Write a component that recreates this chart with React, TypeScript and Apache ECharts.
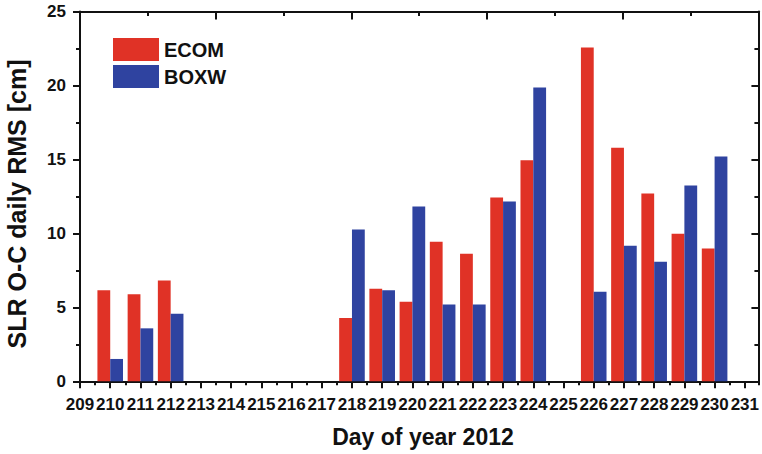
import React, { useEffect, useRef } from "react";
import * as echarts from "echarts";

const days = [210, 211, 212, 218, 219, 220, 221, 222, 223, 224, 226, 227, 228, 229, 230];
const ecom = [6.15, 5.88, 6.82, 4.28, 6.26, 5.38, 9.44, 8.63, 12.43, 14.95, 22.57, 15.79, 12.7, 9.98, 8.97];
const boxw = [1.51, 3.58, 4.57, 10.27, 6.15, 11.82, 5.2, 5.2, 12.16, 19.86, 6.06, 9.17, 8.09, 13.24, 15.2];
const seriesNames = ["ECOM", "BOXW"];
const xMin = 209;
const xMax = 231.45;
const yMin = 0;
const yMax = 25;
const yTitle = "SLR O-C daily RMS [cm]";
const xTitle = "Day of year 2012";

const RED = "#E03226";
const BLUE = "#2F43A0";
const INK = "#111111";
const FONT = "'Liberation Sans', Arial, Helvetica, sans-serif";

export default function App() {
  const ref = useRef<HTMLDivElement>(null);
  useEffect(() => {
    if (!ref.current) return;
    const chart = echarts.init(ref.current, null, { renderer: "svg" });
    const axisLine = { show: true, lineStyle: { color: INK, width: 2 } };
    chart.setOption({
      animation: false,
      backgroundColor: "#ffffff",
      grid: { left: 80, right: 2, top: 11.5, bottom: 72.7, containLabel: false },
      legend: {
        orient: "vertical",
        left: 113,
        top: 38,
        padding: 0,
        itemWidth: 46,
        itemHeight: 23,
        itemGap: 4,
        icon: "rect",
        data: seriesNames,
        textStyle: { fontFamily: FONT, fontWeight: "bold", fontSize: 20, color: INK, lineHeight: 23 },
      },
      xAxis: [
        {
          type: "value",
          position: "bottom",
          min: xMin,
          max: xMax,
          interval: 1,
          axisLine,
          axisTick: { show: true, inside: false, length: 7, lineStyle: { color: INK, width: 2 } },
          axisLabel: {
            margin: 15,
            fontFamily: FONT,
            fontWeight: "bold",
            fontSize: 17,
            color: INK,
            showMaxLabel: false,
            formatter: (v: number) => (Number.isInteger(v) ? String(v) : ""),
          },
          splitLine: { show: false },
        },
        {
          type: "value",
          position: "bottom",
          min: xMin,
          max: xMax,
          interval: 0.5,
          axisLine: { show: false },
          axisTick: { show: true, inside: false, length: 4, lineStyle: { color: INK, width: 2 } },
          axisLabel: { show: false },
          splitLine: { show: false },
        },
        {
          type: "value",
          position: "top",
          min: 0,
          max: 5,
          interval: 1,
          axisLine,
          axisTick: { show: true, inside: true, length: 8, lineStyle: { color: INK, width: 2 } },
          minorTick: { show: true, splitNumber: 2, length: 4.5, lineStyle: { color: INK, width: 2 } },
          axisLabel: { show: false },
          splitLine: { show: false },
        },
      ],
      yAxis: [
        {
          type: "value",
          position: "left",
          min: yMin,
          max: yMax,
          interval: 5,
          axisLine,
          axisTick: { show: true, inside: false, length: 7, lineStyle: { color: INK, width: 2 } },
          minorTick: { show: true, splitNumber: 2, length: 4, lineStyle: { color: INK, width: 2 } },
          axisLabel: { margin: 14, fontFamily: FONT, fontWeight: "bold", fontSize: 17, color: INK },
          splitLine: { show: false },
        },
        {
          type: "value",
          position: "right",
          min: yMin,
          max: yMax,
          interval: 5,
          axisLine,
          axisTick: { show: true, inside: true, length: 7, lineStyle: { color: INK, width: 2 } },
          minorTick: { show: true, splitNumber: 2, length: 4, lineStyle: { color: INK, width: 2 } },
          axisLabel: { show: false },
          splitLine: { show: false },
        },
      ],
      graphic: [
        {
          type: "text",
          x: 17,
          y: 204,
          rotation: Math.PI / 2,
          style: {
            text: yTitle,
            fontFamily: FONT,
            fontWeight: "bold",
            fontSize: 25,
            fill: INK,
            align: "center",
            verticalAlign: "middle",
          },
        },
        {
          type: "text",
          x: 423,
          y: 437,
          style: {
            text: xTitle,
            fontFamily: FONT,
            fontWeight: "bold",
            fontSize: 23,
            fill: INK,
            align: "center",
            verticalAlign: "middle",
          },
        },
      ],
      series: [
        {
          name: seriesNames[0],
          type: "bar",
          xAxisIndex: 0,
          yAxisIndex: 0,
          barWidth: 12.8,
          barGap: "0%",
          itemStyle: { color: RED },
          data: days.map((d, i) => [d, ecom[i]]),
        },
        {
          name: seriesNames[1],
          type: "bar",
          xAxisIndex: 0,
          yAxisIndex: 0,
          barWidth: 12.8,
          barGap: "0%",
          itemStyle: { color: BLUE },
          data: days.map((d, i) => [d, boxw[i]]),
        },
      ],
    });
    return () => chart.dispose();
  }, []);
  return (
    <div
      ref={ref}
      style={{ position: "absolute", left: 0, top: 0, width: 762, height: 454 }}
    />
  );
}
